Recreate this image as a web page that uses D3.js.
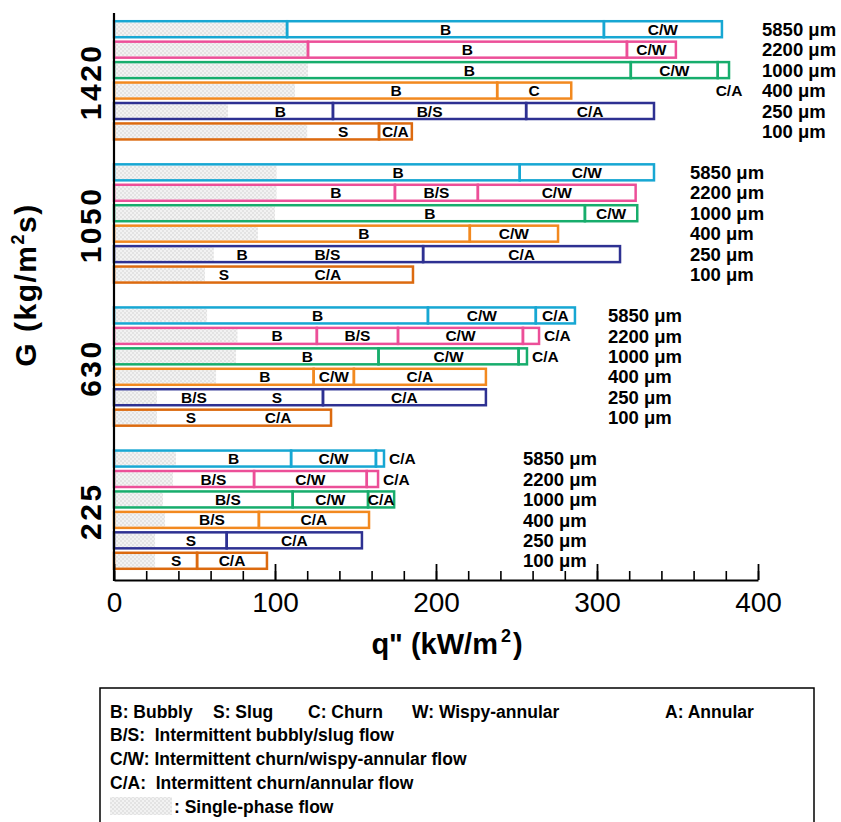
<!DOCTYPE html>
<html>
<head>
<meta charset="utf-8">
<script src="https://cdn.jsdelivr.net/npm/d3@7"></script>
<style>
  html, body { margin: 0; padding: 0; background: #fff; }
  svg { display: block; font-family: "Liberation Sans", Arial, sans-serif; }
</style>
</head>
<body>
<svg id="chart" width="841" height="822"></svg>
<script>
// ---------------- DATA ----------------
const G_VALUES = ["1420", "1050", "630", "225"];
const DIAMETERS = ["5850 \u03bcm", "2200 \u03bcm", "1000 \u03bcm", "400 \u03bcm", "250 \u03bcm", "100 \u03bcm"];
const X_TICKS = [0, 100, 200, 300, 400];

// regime boundaries q" (kW/m2), one list per diameter (drawn dividers)
const bounds1420 = [[0, 107.5, 304.3, 377.6], [0, 120.5, 318.6, 349], [0, 321, 375, 382], [0, 238, 284], [0, 136, 256, 335.4], [0, 164.6, 185]];
const bounds1050 = [[0, 252, 335.4], [0, 174.5, 226, 324], [0, 292.5, 325], [0, 221, 275.8], [0, 192, 314.3], [0, 185.7]];
const bounds630  = [[0, 195, 262, 286.3], [0, 126, 176.4, 254, 264], [0, 164.3, 251.3, 256.5], [0, 124, 149, 231], [0, 129.8, 231], [0, 134.8]];
const bounds225  = [[0, 110, 162.7, 167.7], [0, 87, 157, 164], [0, 111, 157.8, 174], [0, 90, 158.4], [0, 70, 154], [0, 51.6, 95]];

// regime transitions without a drawn divider
const splits1420 = [[], [], [], [], [], []];
const splits1050 = [[], [], [], [], [73], [80]];
const splits630  = [[], [], [], [], [72.7], [69]];
const splits225  = [[], [], [], [], [], []];

// regime names, one per interval
const regimes1420 = [["", "B", "C/W"], ["", "B", "C/W"], ["B", "C/W", "C/A"], ["B", "C"], ["B", "B/S", "C/A"], ["S", "C/A"]];
const regimes1050 = [["B", "C/W"], ["B", "B/S", "C/W"], ["B", "C/W"], ["B", "C/W"], ["B", "B/S", "C/A"], ["S", "C/A"]];
const regimes630  = [["B", "C/W", "C/A"], ["B", "B/S", "C/W", "C/A"], ["B", "C/W", "C/A"], ["B", "C/W", "C/A"], ["B/S", "S", "C/A"], ["S", "C/A"]];
const regimes225  = [["B", "C/W", "C/A"], ["B/S", "C/W", "C/A"], ["B/S", "C/W", "C/A"], ["B/S", "C/A"], ["S", "C/A"], ["S", "C/A"]];

// end of single-phase flow q" (kW/m2)
const single1420 = [107.5, 120.5, 120.5, 112.4, 70.8, 120];
const single1050 = [101, 101, 100, 89.4, 62, 56.5];
const single630  = [57.8, 76.7, 75.8, 63.4, 26.7, 26.7];
const single225  = [38.5, 36.6, 30.4, 31.7, 25.5, 25.5];

// ---------------- LAYOUT / STYLE ----------------
const COLORS = ["#17a7d3", "#ec4f98", "#17ad6c", "#f2891f", "#2e3192", "#dc6a0f"];
const DIAM_LABEL_Q = [402.5, 357.8, 306.8, 254]; // where the diameter column starts in each group
const FONT = "'Liberation Sans', Arial, sans-serif";

const groups = [
  { g: G_VALUES[0], bounds: bounds1420, splits: splits1420, regimes: regimes1420, single: single1420 },
  { g: G_VALUES[1], bounds: bounds1050, splits: splits1050, regimes: regimes1050, single: single1050 },
  { g: G_VALUES[2], bounds: bounds630,  splits: splits630,  regimes: regimes630,  single: single630 },
  { g: G_VALUES[3], bounds: bounds225,  splits: splits225,  regimes: regimes225,  single: single225 }
];

const svg = d3.select("#chart");
svg.append("rect").attr("width", 841).attr("height", 822).attr("fill", "#fff");

// single-phase pattern
const defs = svg.append("defs");
const pat = defs.append("pattern").attr("id", "sp").attr("width", 4).attr("height", 4).attr("patternUnits", "userSpaceOnUse");
pat.append("rect").attr("width", 4).attr("height", 4).attr("fill", "#f2f2f2");
pat.append("rect").attr("width", 2).attr("height", 2).attr("fill", "#e3e3e3");
pat.append("rect").attr("x", 2).attr("y", 2).attr("width", 2).attr("height", 2).attr("fill", "#e3e3e3");

const x = d3.scaleLinear().domain([0, 400]).range([114, 758]);

const slots = [];
groups.forEach((grp, gi) => {
  DIAMETERS.forEach(d => slots.push(grp.g + "|" + d));
  if (gi < groups.length - 1) slots.push("gap" + gi);
});
const y = d3.scaleBand().domain(slots).range([19, 571]).padding(0);
const bw = y.bandwidth();
const RECT_H = 16;
const SW = 2.5;

const plot = svg.append("g");

groups.forEach((grp, gi) => {
  DIAMETERS.forEach((d, di) => {
    const key = grp.g + "|" + d;
    const cy = y(key) + bw / 2;
    const b = grp.bounds[di];
    const end = b[b.length - 1];
    const col = COLORS[di];
    const gEl = plot.append("g");
    gEl.append("rect").attr("x", x(0)).attr("y", cy - RECT_H / 2)
      .attr("width", x(end) - x(0)).attr("height", RECT_H).attr("fill", "#fff");
    gEl.append("rect").attr("x", x(0)).attr("y", cy - RECT_H / 2 + SW / 2)
      .attr("width", x(grp.single[di]) - x(0)).attr("height", RECT_H - SW).attr("fill", "url(#sp)");
    for (let i = 0; i < b.length - 1; i++) {
      gEl.append("rect").attr("x", x(b[i])).attr("y", cy - RECT_H / 2)
        .attr("width", x(b[i + 1]) - x(b[i])).attr("height", RECT_H)
        .attr("fill", "none").attr("stroke", col).attr("stroke-width", SW);
    }
    const edges = b.concat(grp.splits[di]).sort((a, c) => a - c);
    const labs = grp.regimes[di];
    for (let i = 0; i < edges.length - 1; i++) {
      const name = labs[i];
      if (!name) continue;
      const s = Math.max(edges[i], grp.single[di]);
      const e = edges[i + 1];
      const w = x(e) - x(s);
      const t = gEl.append("text").text(name)
        .attr("font-family", FONT).attr("font-weight", "bold").attr("font-size", 15.5)
        .attr("fill", "#000").attr("dy", "0.36em");
      if (w >= 20) {
        t.attr("x", (x(s) + x(e)) / 2).attr("y", cy).attr("text-anchor", "middle");
      } else {
        const startX = x(e) + 5;
        if (startX + 30 < x(DIAM_LABEL_Q[gi]) - 2) {
          t.attr("x", startX).attr("y", cy).attr("text-anchor", "start");
        } else {
          t.attr("x", x(e)).attr("y", cy + bw).attr("text-anchor", "middle");
        }
      }
    }
    svg.append("text").text(d).attr("x", x(DIAM_LABEL_Q[gi])).attr("y", cy).attr("dy", "0.36em")
      .attr("font-family", FONT).attr("font-weight", "bold").attr("font-size", 18.5).attr("fill", "#000");
  });
  const cY = (y(grp.g + "|" + DIAMETERS[0]) + y(grp.g + "|" + DIAMETERS[5]) + bw) / 2;
  svg.append("text").text(grp.g)
    .attr("transform", `translate(101,${cY + 1.5}) rotate(-90)`)
    .attr("text-anchor", "middle").attr("font-family", FONT).attr("font-weight", "bold")
    .attr("font-size", 30).attr("letter-spacing", 2.5).attr("fill", "#000");
});

// y axis line
svg.append("line").attr("x1", x(0)).attr("x2", x(0)).attr("y1", 13).attr("y2", 581)
  .attr("stroke", "#000").attr("stroke-width", 2.2);

// x axis: minor then major
const AX_Y = 580;
const minorAxis = d3.axisBottom(x).tickValues(d3.range(0, 401, 20)).tickSize(-9).tickSizeOuter(0).tickFormat("");
const gMinor = svg.append("g").attr("transform", `translate(0,${AX_Y})`).call(minorAxis);
gMinor.select(".domain").attr("stroke", "#000").attr("stroke-width", 2.2);
gMinor.selectAll(".tick line").attr("stroke", "#000").attr("stroke-width", 1.6);

const majorAxis = d3.axisBottom(x).tickValues(X_TICKS).tickSize(-16).tickSizeOuter(0).tickPadding(12);
const gMajor = svg.append("g").attr("transform", `translate(0,${AX_Y})`).call(majorAxis);
gMajor.select(".domain").remove();
gMajor.selectAll(".tick line").attr("stroke", "#000").attr("stroke-width", 1.8);
gMajor.selectAll(".tick text").attr("font-family", FONT).attr("font-size", 28).attr("fill", "#000");

// axis titles
const xt = svg.append("text").attr("x", 447).attr("y", 654).attr("text-anchor", "middle")
  .attr("font-family", FONT).attr("font-weight", "bold").attr("font-size", 29).attr("fill", "#000");
xt.append("tspan").text("q\" (kW/m");
xt.append("tspan").text("2").attr("font-size", 18).attr("dy", -12).attr("dx", 3);
xt.append("tspan").text(")").attr("dy", 12).attr("dx", 2);

const yt = svg.append("text").attr("transform", "translate(36,285) rotate(-90)").attr("text-anchor", "middle")
  .attr("font-family", FONT).attr("font-weight", "bold").attr("font-size", 30).attr("letter-spacing", 1.5).attr("fill", "#000");
yt.append("tspan").text("G (kg/m");
yt.append("tspan").text("2").attr("font-size", 18).attr("dy", -12);
yt.append("tspan").text("s)").attr("dy", 12);

// legend
svg.append("rect").attr("x", 100).attr("y", 688).attr("width", 714).attr("height", 150)
  .attr("fill", "none").attr("stroke", "#000").attr("stroke-width", 1.5);
const legRow1 = [["B: Bubbly", 110], ["S: Slug", 213], ["C: Churn", 308], ["W: Wispy-annular", 412], ["A: Annular", 665]];
const leg = svg.append("g").attr("font-family", FONT).attr("font-weight", "bold").attr("font-size", 17.5).attr("fill", "#000");
legRow1.forEach(([t, lx]) => leg.append("text").attr("x", lx).attr("y", 718).text(t));
leg.append("text").attr("x", 110).attr("y", 741).attr("xml:space", "preserve").text("B/S:  Intermittent bubbly/slug flow");
leg.append("text").attr("x", 110).attr("y", 765).text("C/W: Intermittent churn/wispy-annular flow");
leg.append("text").attr("x", 110).attr("y", 789).attr("xml:space", "preserve").text("C/A:  Intermittent churn/annular flow");
svg.append("rect").attr("x", 110).attr("y", 797).attr("width", 62).attr("height", 18).attr("fill", "url(#sp)");
leg.append("text").attr("x", 174).attr("y", 813).text(": Single-phase flow");
</script>
</body>
</html>
